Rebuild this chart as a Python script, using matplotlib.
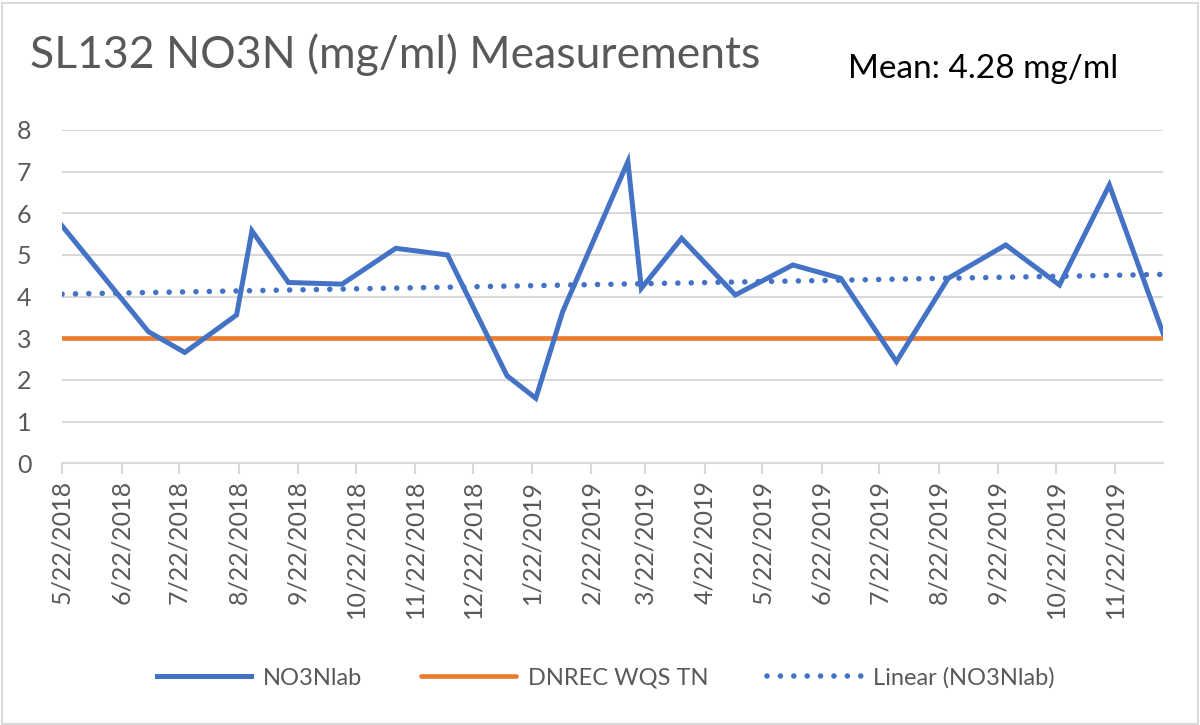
import numpy as np
import pandas as pd
import matplotlib.pyplot as plt
import matplotlib.dates as mdates
from matplotlib.patches import Rectangle

plt.rcParams['font.family'] = ['Lato', 'DejaVu Sans']

# sample dates and NO3N values
dates = pd.to_datetime([
    "2018-05-22", "2018-07-06", "2018-07-25", "2018-08-21", "2018-08-29",
    "2018-09-17", "2018-10-15", "2018-11-12", "2018-12-09", "2019-01-09",
    "2019-01-24", "2019-02-07", "2019-03-13", "2019-03-20", "2019-04-10",
    "2019-05-08", "2019-06-07", "2019-07-02", "2019-07-31", "2019-08-27",
    "2019-09-26", "2019-10-24", "2019-11-19", "2019-12-17"])
no3n = [5.70, 3.16, 2.66, 3.56, 5.58, 4.34, 4.30, 5.16, 5.00, 2.10,
        1.56, 3.64, 7.24, 4.20, 5.40, 4.04, 4.76, 4.44, 2.44, 4.44,
        5.24, 4.28, 6.68, 3.12]
wqs_tn = 3.0
tick_dates = pd.date_range("2018-05-01", "2019-11-01", freq="MS") + pd.Timedelta(days=21)

blue = "#4472C4"
orange = "#ED7D31"
grey = "#595959"

fig = plt.figure(figsize=(12, 7.25), dpi=100)
ax = fig.add_axes([0.0517, 0.361, 0.9175, 0.4597])

x = mdates.date2num(dates)
ax.plot(dates, no3n, color=blue, lw=3.6, solid_joinstyle="miter", label="NO3Nlab", zorder=3)
ax.plot(dates, [wqs_tn] * len(dates), color=orange, lw=3.4, solid_capstyle="round", label="DNREC WQS TN", zorder=2)

# linear trend line like Excel's
k, b = np.polyfit(x, no3n, 1)
ax.plot(dates, k * x + b, color=blue, lw=4, linestyle=(0, (0.01, 2.4)),
        dash_capstyle="round", label="Linear (NO3Nlab)", zorder=2)

ax.set_xlim(dates[0], dates[-1])
ax.set_ylim(0, 8)
ax.set_yticks(range(0, 9))
ax.set_xticks(tick_dates)
ax.set_xticklabels([f"{d.month}/{d.day}/{d.year}" for d in tick_dates], rotation=90)
ax.yaxis.grid(True, color="#D9D9D9", lw=1.5)
ax.set_axisbelow(True)
for s in ["top", "right", "left"]:
    ax.spines[s].set_visible(False)
ax.spines["bottom"].set_color("#D9D9D9")
ax.spines["bottom"].set_linewidth(1.5)
ax.tick_params(axis="y", length=0, pad=22, labelsize=18, labelcolor=grey)
ax.tick_params(axis="x", length=8, width=1.5, color="#D9D9D9", pad=4, labelsize=18, labelcolor=grey)

fig.text(0.025, 0.925, "SL132 NO3N (mg/ml) Measurements", fontsize=32, color=grey, va="center")
fig.text(0.707, 0.905, "Mean: 4.28 mg/ml", fontsize=24, color="black", va="center")

fig.legend(loc="center", bbox_to_anchor=(0.505, 0.065), ncol=3, frameon=False,
           fontsize=17, labelcolor=grey, handlelength=4.0, columnspacing=2.5, handletextpad=0.5)

fig.patches.append(Rectangle((0.002, 0.002), 0.996, 0.994, transform=fig.transFigure,
                             fill=False, edgecolor="#D9D9D9", lw=1.5))

fig.savefig("out.png", dpi=100)
